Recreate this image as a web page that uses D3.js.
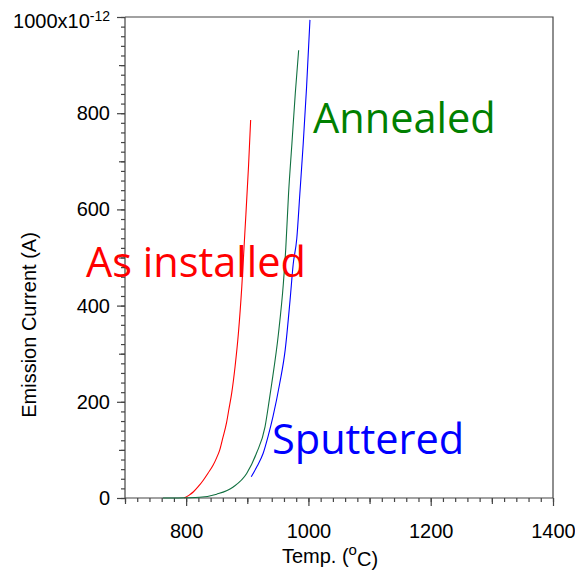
<!DOCTYPE html>
<html>
<head>
<meta charset="utf-8">
<script src="https://cdn.jsdelivr.net/npm/d3@7"></script>
<style>
  html, body { margin: 0; padding: 0; background: #fff; }
  svg { display: block; }
  .axis text { font-family: "Liberation Sans", Arial, sans-serif; font-size: 20px; fill: #000; }
  .axis path, .axis line { stroke: #444; stroke-width: 1.2; }
</style>
</head>
<body>
<svg id="chart" width="575" height="572"></svg>
<script>
// Emission current vs temperature for three filament conditions
const asInstalledT = [797, 805, 812, 820, 828, 836, 844, 850, 855, 860, 866, 870, 874.5, 880, 885.5, 891, 896, 902, 905.5];
const asInstalledI = [0, 6, 13, 24, 37, 52, 68, 84, 100, 125, 156, 185, 218, 273, 343, 439, 551, 689, 786];

const annealedT = [762, 780, 800, 822, 850, 877, 899, 915, 929, 936, 940, 951, 959, 963, 967.5, 973, 978.5, 984];
const annealedI = [0, 0, 0.5, 1.5, 8, 23, 51, 93, 148, 204, 238, 342, 446, 520, 633, 737, 841, 931];

const sputteredT = [906.5, 916, 926, 934, 942, 953, 962, 970, 975, 981, 986, 991.5, 997, 1002.5];
const sputteredI = [44, 66, 93, 128, 169, 238, 308, 412, 485, 540, 633, 737, 855, 994];

const xMajorTicks = [800, 1000, 1200, 1400];
const yMajorTicks = [0, 200, 400, 600, 800, 1000];
const yTopLabel = "1000x10";
const yTopExponent = "-12";

const seriesNames = ["As installed", "Annealed", "Sputtered"];
const seriesColors = ["#ff0000", "#117040", "#0000ff"];
const labelColors = ["#ff0000", "#008000", "#0000ff"];

const svg = d3.select("#chart");
const margin = { left: 125, right: 22, top: 17, bottom: 74 };
const W = 575, H = 572;

const x = d3.scaleLinear().domain([700, 1400]).range([margin.left, W - margin.right]);
const y = d3.scaleLinear().domain([0, 1000]).range([H - margin.bottom, margin.top]);

const x0 = margin.left, x1 = W - margin.right, y0 = H - margin.bottom, y1 = margin.top;

// frame: top and right edges
svg.append("path")
  .attr("d", `M${x0},${y1}H${x1}V${y0}`)
  .attr("fill", "none").attr("stroke", "#444").attr("stroke-width", 1.2);

// x axis: minor (20), medium (100), major (200)
const xMinor = d3.range(700, 1401, 20);
const xMid = d3.range(700, 1401, 100).filter(v => !xMajorTicks.includes(v));
svg.append("g").attr("class", "axis").attr("transform", `translate(0,${y0})`)
  .call(d3.axisBottom(x).tickValues(xMinor).tickSize(4).tickFormat(""))
  .call(g => g.select(".domain").remove());
svg.append("g").attr("class", "axis").attr("transform", `translate(0,${y0})`)
  .call(d3.axisBottom(x).tickValues(xMid).tickSize(6).tickFormat(""))
  .call(g => g.select(".domain").remove());
svg.append("g").attr("class", "axis").attr("transform", `translate(0,${y0})`)
  .call(d3.axisBottom(x).tickValues(xMajorTicks).tickSize(8).tickPadding(18).tickFormat(d3.format("d")))
  .call(g => g.select(".domain").attr("d", `M${x0},0H${x1}`));

// y axis
const yMinor = d3.range(0, 1001, 20);
const yMid = d3.range(0, 1001, 100).filter(v => !yMajorTicks.includes(v));
svg.append("g").attr("class", "axis").attr("transform", `translate(${x0},0)`)
  .call(d3.axisLeft(y).tickValues(yMinor).tickSize(4).tickFormat(""))
  .call(g => g.select(".domain").remove());
svg.append("g").attr("class", "axis").attr("transform", `translate(${x0},0)`)
  .call(d3.axisLeft(y).tickValues(yMid).tickSize(6).tickFormat(""))
  .call(g => g.select(".domain").remove());
const yAxisG = svg.append("g").attr("class", "axis").attr("transform", `translate(${x0},0)`)
  .call(d3.axisLeft(y).tickValues(yMajorTicks).tickSize(8).tickPadding(7).tickFormat(d3.format("d")))
  .call(g => g.select(".domain").attr("d", `M0,${y0}V${y1}`));

// the top label carries the unit exponent
yAxisG.selectAll(".tick").filter(d => d === 1000).select("text")
  .text(null)
  .call(t => {
    t.append("tspan").text(yTopLabel);
    t.append("tspan").text(yTopExponent).attr("dy", "-0.5em").style("font-size", "14px");
  })
  .attr("dy", "0.5em");

// axis titles
svg.append("text")
  .attr("x", 330).attr("y", 563)
  .attr("text-anchor", "middle")
  .style("font-family", "'Liberation Sans', Arial, sans-serif").style("font-size", "20px")
  .call(t => {
    t.append("tspan").text("Temp. (");
    t.append("tspan").text("o").attr("dy", "-0.55em").style("font-size", "15px");
    t.append("tspan").text("C)").attr("dy", "0.55em");
  });

svg.append("text")
  .attr("transform", `translate(36,325) rotate(-90)`)
  .attr("text-anchor", "middle")
  .style("font-family", "'Liberation Sans', Arial, sans-serif").style("font-size", "20px")
  .text("Emission Current (A)");

// curves
const series = [
  { t: asInstalledT, v: asInstalledI },
  { t: annealedT, v: annealedI },
  { t: sputteredT, v: sputteredI }
];
const line = d3.line().x(d => x(d[0])).y(d => y(d[1])).curve(d3.curveMonotoneX);
series.forEach((s, i) => {
  svg.append("path")
    .datum(d3.zip(s.t, s.v))
    .attr("fill", "none")
    .attr("stroke", seriesColors[i])
    .attr("stroke-width", 1.1)
    .attr("d", line);
});

// in-plot series labels
const labelPos = [[86, 277], [313, 133], [272, 454]];
seriesNames.forEach((name, i) => {
  svg.append("text")
    .attr("x", labelPos[i][0]).attr("y", labelPos[i][1])
    .style("font-family", "'Open Sans', sans-serif").style("font-size", "41.5px")
    .attr("fill", labelColors[i])
    .text(name);
});
</script>
</body>
</html>
